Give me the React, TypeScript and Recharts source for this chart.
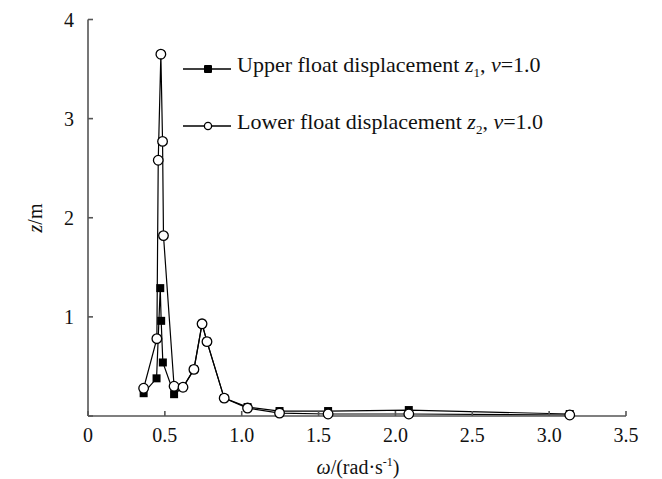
import React from 'react';
import { LineChart, Line, XAxis, YAxis } from 'recharts';

// omega (rad/s) and displacement (m)
const upperOmega = [0.362, 0.446, 0.47, 0.476, 0.487, 0.56, 0.618, 0.689, 0.742, 0.774, 0.886, 1.038, 1.246, 1.562, 2.087, 3.134];
const upperZ = [0.23, 0.38, 1.29, 0.96, 0.54, 0.22, 0.29, 0.47, 0.93, 0.75, 0.18, 0.09, 0.05, 0.05, 0.06, 0.02];

const lowerOmega = [0.362, 0.448, 0.457, 0.474, 0.485, 0.491, 0.56, 0.618, 0.689, 0.742, 0.774, 0.886, 1.038, 1.246, 1.562, 2.087, 3.134];
const lowerZ = [0.28, 0.78, 2.58, 3.65, 2.77, 1.82, 0.3, 0.29, 0.47, 0.93, 0.75, 0.18, 0.08, 0.03, 0.02, 0.02, 0.01];

const xTicks = [0, 0.5, 1, 1.5, 2, 2.5, 3, 3.5];
const yTicks = [0, 1, 2, 3, 4];

const FONT = '"Liberation Serif", "DejaVu Serif", serif';

const upperData = upperOmega.map((w, i) => ({ w, z: upperZ[i] }));
const lowerData = lowerOmega.map((w, i) => ({ w, z: lowerZ[i] }));

const SquareDot = (props: any) => {
  const { cx, cy } = props;
  if (cx == null || cy == null) return null;
  return <rect x={cx - 4} y={cy - 4} width={8} height={8} fill="#000" />;
};

const CircleDot = (props: any) => {
  const { cx, cy } = props;
  if (cx == null || cy == null) return null;
  return <circle cx={cx} cy={cy} r={4.8} fill="#fff" stroke="#000" strokeWidth={1.3} />;
};

// legend sits inside the plot, top right of the peak
const ChartLegend = () => {
  const row = (filled: boolean, idx: number) => (
    <div style={{ display: 'flex', alignItems: 'center', height: 28, marginBottom: idx === 0 ? 29 : 0 }}>
      <svg width={50} height={14} style={{ marginRight: 4 }}>
        <line x1={0} y1={7} x2={48} y2={7} stroke="#000" strokeWidth={1.3} />
        {filled ? (
          <rect x={21} y={3} width={8} height={8} rx={1} fill="#000" />
        ) : (
          <circle cx={25} cy={7} r={3.6} fill="#fff" stroke="#000" strokeWidth={1.3} />
        )}
      </svg>
      <span>
        {filled ? 'Upper' : 'Lower'} float displacement <i>z</i>
        <sub style={{ fontSize: 13 }}>{filled ? 1 : 2}</sub>, <i>v</i>=1.0
      </span>
    </div>
  );
  return (
    <div
      style={{
        position: 'absolute',
        left: 175,
        top: 47,
        fontFamily: FONT,
        fontSize: 22,
        color: '#111',
        lineHeight: '28px',
        whiteSpace: 'nowrap',
      }}
    >
      {row(true, 0)}
      {row(false, 1)}
    </div>
  );
};

const XLabel = () => (
  <text x={350} y={466} textAnchor="middle" fontFamily={FONT} fontSize={20} fill="#111">
    <tspan fontStyle="italic">ω</tspan>
    <tspan>/(rad·s</tspan>
    <tspan fontSize={12} dy={-8}>-1</tspan>
    <tspan dy={8}>)</tspan>
  </text>
);

const YLabel = () => (
  <text x={34} y={210} textAnchor="middle" fontFamily={FONT} fontSize={20} fill="#111" transform="rotate(-90 34 210)">
    <tspan fontStyle="italic">z</tspan>
    <tspan>/m</tspan>
  </text>
);

const App = () => {
  return (
    <div style={{ width: 654, height: 471, position: 'relative' }}>
      <LineChart width={654} height={471} margin={{ top: 11.5, right: 36, bottom: 3, left: 0 }}>
        <XAxis
          type="number"
          dataKey="w"
          domain={[0, 3.5]}
          ticks={xTicks}
          allowDataOverflow
          tickFormatter={(v: number) => (v === 0 ? '0' : v.toFixed(1))}
          tickSize={-5}
          tickMargin={17}
          height={60}
          stroke="#555"
          strokeWidth={1.6}
          tick={{ fill: '#111', fontFamily: FONT, fontSize: 20 }}
          label={{ content: () => <XLabel /> }}
        />
        <YAxis
          type="number"
          dataKey="z"
          domain={[0, 4]}
          ticks={yTicks}
          tickFormatter={(v: number) => (v === 0 ? '' : String(v))}
          tickSize={-5}
          tickMargin={19}
          width={80}
          stroke="#555"
          strokeWidth={1.6}
          tick={{ fill: '#111', fontFamily: FONT, fontSize: 20 }}
          label={{ content: () => <YLabel /> }}
        />
        <Line
          data={upperData}
          dataKey="z"
          type="linear"
          stroke="#000"
          strokeWidth={1.2}
          dot={<SquareDot />}
          activeDot={false}
          isAnimationActive={false}
        />
        <Line
          data={lowerData}
          dataKey="z"
          type="linear"
          stroke="#000"
          strokeWidth={1.2}
          dot={<CircleDot />}
          activeDot={false}
          isAnimationActive={false}
        />
      </LineChart>
      <ChartLegend />
    </div>
  );
};

export default App;
